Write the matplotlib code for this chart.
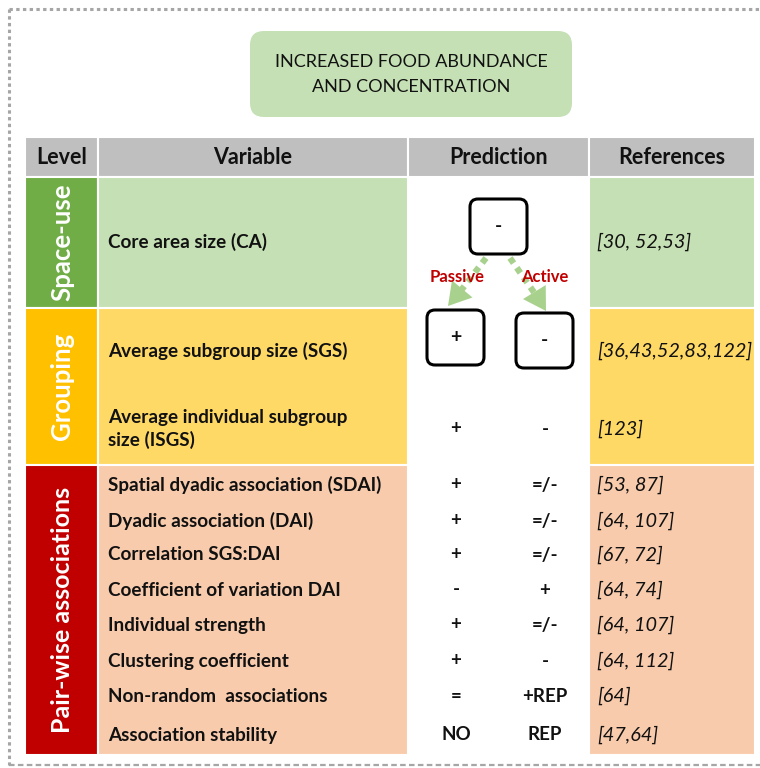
import matplotlib.pyplot as plt
from matplotlib.patches import Rectangle, FancyBboxPatch

plt.rcParams['font.family'] = ['Lato', 'DejaVu Sans']

# table contents
headers = ['Level', 'Variable', 'Prediction', 'References']
levels = ['Space-use', 'Grouping', 'Pair-wise associations']
variables = ['Core area size (CA)', 'Average subgroup size (SGS)',
             'Average individual subgroup\nsize (ISGS)',
             'Spatial dyadic association (SDAI)', 'Dyadic association (DAI)',
             'Correlation SGS:DAI', 'Coefficient of variation DAI',
             'Individual strength', 'Clustering coefficient',
             'Non-random  associations', 'Association stability']
passive = ['', '', '+', '+', '+', '+', '-', '+', '+', '=', 'NO']
active = ['', '', '-', '=/-', '=/-', '=/-', '+', '=/-', '-', '+REP', 'REP']
references = ['[30, 52,53]', '[36,43,52,83,122]', '[123]', '[53, 87]',
              '[64, 107]', '[67, 72]', '[64, 74]', '[64, 107]', '[64, 112]',
              '[64]', '[47,64]']

# layout (pixels)
row_y = [242, 351, 429, 485, 521, 555, 590, 625, 661, 696, 735]
band_y = [(177, 308), (308, 465), (465, 755)]
col_x = [25, 98, 408, 589, 755]
dark = ['#70AD47', '#FFC000', '#C00000']
light = ['#C5E0B4', '#FFD966', '#F8CBAD']
level_size = [18.5, 18.5, 18]
pas_x, act_x = 456, 545
ink = '#111111'

fig = plt.figure(figsize=(7.6, 7.68), dpi=100)
ax = fig.add_axes([0, 0, 1, 1])
ax.set_xlim(0, 760)
ax.set_ylim(768, 0)
ax.axis('off')

# dotted frame
ax.plot([9, 760], [9, 9], color='#A6A6A6', lw=2.2, ls=(0, (1.1, 1.1)))
ax.plot([9, 9], [9, 765], color='#A6A6A6', lw=2.2, ls=(0, (1.1, 1.1)))
ax.plot([9, 760], [765, 765], color='#A6A6A6', lw=1.6, ls=(0, (2.5, 1.5)))

# title box
ax.add_patch(FancyBboxPatch((260, 41), 302, 66, boxstyle='round,pad=10,rounding_size=14',
                            fc='#C5E0B4', ec='none'))
ax.text(411, 62, 'INCREASED FOOD ABUNDANCE', ha='center', va='center',
        fontsize=13, color=ink)
ax.text(411, 87, 'AND CONCENTRATION', ha='center', va='center',
        fontsize=13, color=ink)

# header
for i, h in enumerate(headers):
    ax.add_patch(Rectangle((col_x[i], 137), col_x[i + 1] - col_x[i], 40,
                           fc='#BFBFBF', ec='white', lw=1.5))
    ax.text((col_x[i] + col_x[i + 1]) / 2, 158, h, ha='center', va='center',
            fontsize=15.5, fontweight='bold', color=ink)

# level bands
for k, (y0, y1) in enumerate(band_y):
    ax.add_patch(Rectangle((col_x[0], y0), col_x[1] - col_x[0], y1 - y0,
                           fc=dark[k], ec='white', lw=1.5))
    ax.add_patch(Rectangle((col_x[1], y0), col_x[2] - col_x[1], y1 - y0,
                           fc=light[k], ec='white', lw=1.5))
    ax.add_patch(Rectangle((col_x[3], y0), col_x[4] - col_x[3], y1 - y0,
                           fc=light[k], ec='white', lw=1.5))
    ax.text(62, (y0 + y1) / 2, levels[k], rotation=90, ha='center', va='center',
            fontsize=level_size[k], fontweight='bold', color='white')

# rows
for i in range(len(variables)):
    y = row_y[i]
    ax.text(108, y, variables[i], ha='left', va='center', fontsize=13.6,
            fontweight='bold', color=ink, linespacing=1.3)
    ax.text(597, y, references[i], ha='left', va='center', fontsize=14.3,
            style='italic', color=ink)
    if passive[i]:
        ax.text(pas_x, y, passive[i], ha='center', va='center', fontsize=13.5,
                fontweight='bold', color=ink)
        ax.text(act_x, y, active[i], ha='center', va='center', fontsize=13.5,
                fontweight='bold', color=ink)

# prediction boxes
boxes = [(470, 199, '-'), (427, 310, '+'), (516, 313, '-')]
for bx, by, s in boxes:
    ax.add_patch(FancyBboxPatch((bx + 5, by + 5), 47, 45,
                                boxstyle='round,pad=5,rounding_size=8',
                                fc='white', ec='black', lw=2.2))
    ax.text(bx + 28.5, by + 27.5, s, ha='center', va='center', fontsize=14,
            fontweight='bold', color=ink)

# dashed arrows (shaft + head)
arrow_green = '#A9D18E'
for (x0, y0), (x1, y1) in [((486, 258), (456, 297)), ((510, 258), (540, 301))]:
    ax.plot([x0, x1], [y0, y1], color=arrow_green, lw=4.5, ls=(0, (1.0, 0.9)),
            solid_capstyle='butt')
for (x0, y0), (x1, y1) in [((458, 294), (448, 306)), ((538, 298), (546, 311))]:
    ax.annotate('', xy=(x1, y1), xytext=(x0, y0),
                arrowprops=dict(arrowstyle='-|>,head_length=1.0,head_width=0.6',
                                mutation_scale=16, color=arrow_green, lw=0,
                                shrinkA=0, shrinkB=0))
ax.text(457, 277, 'Passive', ha='center', va='center', fontsize=12,
        fontweight='bold', color='#C00000')
ax.text(545, 277, 'Active', ha='center', va='center', fontsize=12,
        fontweight='bold', color='#C00000')

fig.savefig('out.png', dpi=100)
